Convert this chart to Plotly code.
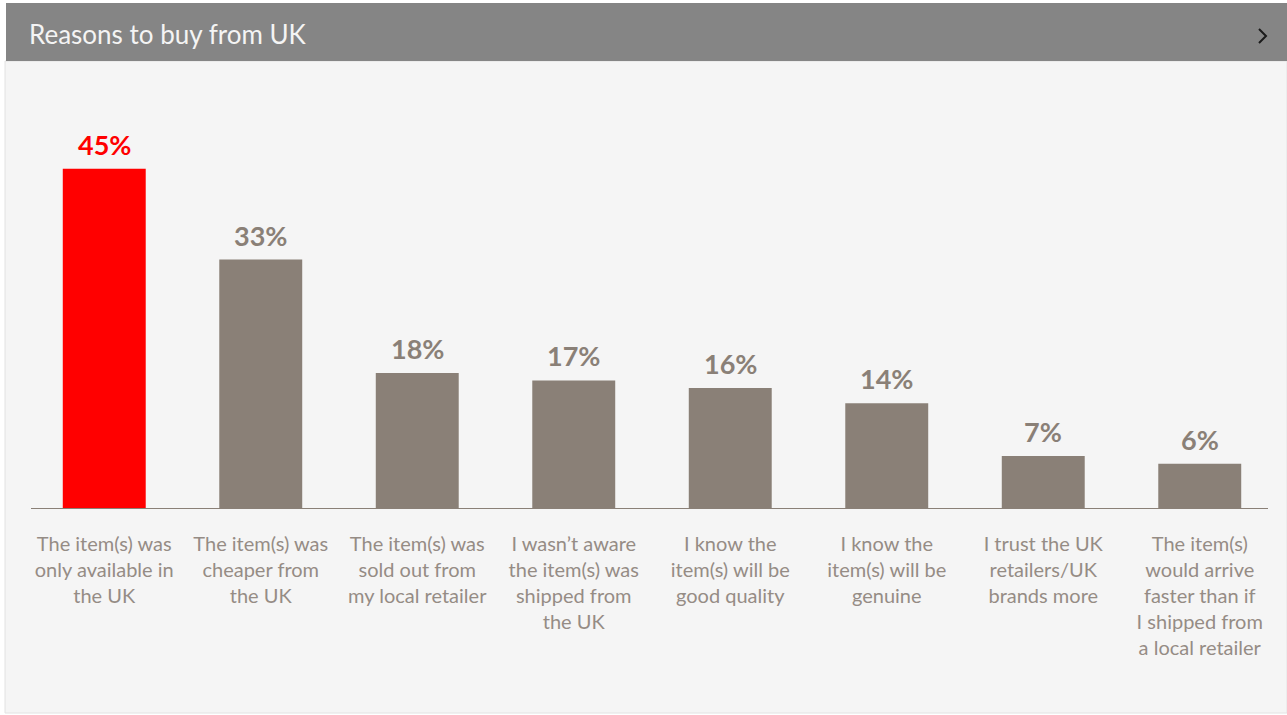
import plotly.graph_objects as go

categories = [
    "The item(s) was<br>only available in<br>the UK",
    "The item(s) was<br>cheaper from<br>the UK",
    "The item(s) was<br>sold out from<br>my local retailer",
    "I wasn’t aware<br>the item(s) was<br>shipped from<br>the UK",
    "I know the<br>item(s) will be<br>good quality",
    "I know the<br>item(s) will be<br>genuine",
    "I trust the UK<br>retailers/UK<br>brands more",
    "The item(s)<br>would arrive<br>faster than if<br>I shipped from<br>a local retailer",
]
values = [45, 33, 18, 17, 16, 14, 7, 6]
value_labels = ["45%", "33%", "18%", "17%", "16%", "14%", "7%", "6%"]
title = "Reasons to buy from UK"

RED = "#ff0000"
GREY = "#8a8077"
LABEL = "#958c85"
colors = [RED] + [GREY] * (len(values) - 1)

W, H = 1287, 715
L, R = 26, 1278
T, B = 131, 509
PW, PH = R - L, B - T


def px(x):
    return (x - L) / PW


def py(y):
    return (B - y) / PH


x_idx = list(range(len(categories)))

fig = go.Figure()
fig.add_trace(go.Bar(
    x=x_idx, y=values, marker=dict(color=colors, line=dict(width=0)),
    width=0.53, hoverinfo="skip",
))

for i, (v, t, c) in enumerate(zip(values, value_labels, colors)):
    fig.add_annotation(x=i, y=v, text=f"<b>{t}</b>", showarrow=False,
                       yanchor="bottom", yshift=6,
                       font=dict(family="Lato", size=27, color=c))

chev = (f"M {px(1259)} {py(29)} L {px(1266)} {py(36)} L {px(1259)} {py(43)}")
shapes = [
    dict(type="rect", xref="paper", yref="paper", x0=px(5), x1=px(1287),
         y0=py(713), y1=py(61), fillcolor="#f5f5f5",
         line=dict(color="#e2e2e2", width=1), layer="below"),
    dict(type="rect", xref="paper", yref="paper", x0=px(6), x1=px(1287),
         y0=py(61), y1=py(3), fillcolor="#858585", line=dict(width=0),
         layer="below"),
    dict(type="path", xref="paper", yref="paper", path=chev,
         line=dict(color="#1a1a1a", width=2)),
    dict(type="line", xref="paper", yref="y", x0=px(31), x1=px(1268),
         y0=0, y1=0, line=dict(color=GREY, width=2)),
]

fig.add_annotation(xref="paper", yref="paper", x=px(27), y=py(34),
                   xanchor="left", yanchor="middle", showarrow=False,
                   text=title, font=dict(family="Lato", size=26, color="#f4f4f4"))

fig.update_layout(
    width=W, height=H,
    margin=dict(l=L, r=W - R, t=T, b=H - B, pad=0),
    paper_bgcolor="white", plot_bgcolor="rgba(0,0,0,0)",
    shapes=shapes, showlegend=False, bargap=0.47,
    font=dict(family="Lato"),
)
fig.update_xaxes(
    tickmode="array", tickvals=x_idx, ticktext=categories,
    range=[-0.5, len(categories) - 0.5], showgrid=False, showline=False,
    zeroline=False, ticks="", tickfont=dict(family="Lato", size=20, color=LABEL),
    ticklabelstandoff=21, fixedrange=True,
)
fig.update_yaxes(range=[0, 50], visible=False, showgrid=False, zeroline=False,
                 fixedrange=True)

fig.write_html("out.html")
